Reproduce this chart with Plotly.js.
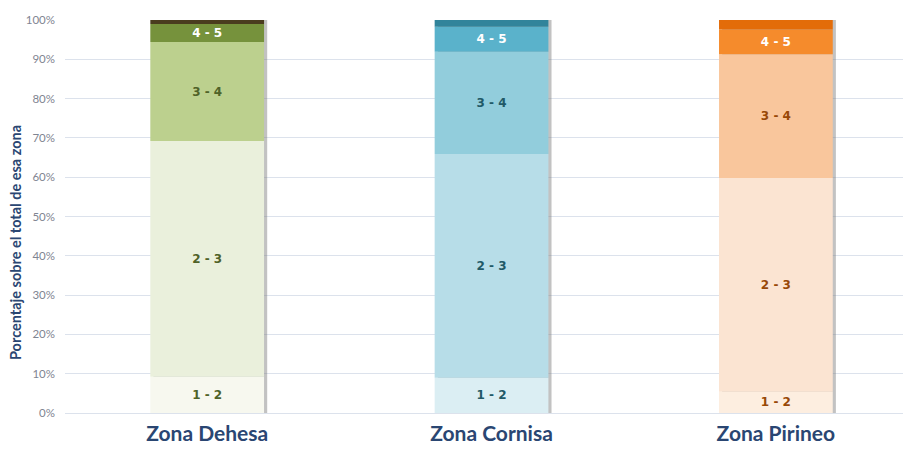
<!DOCTYPE html>
<html><head><meta charset="utf-8">
<script src="https://cdn.plot.ly/plotly-3.0.1.min.js"></script>
<style>html,body{margin:0;padding:0;background:#fff}#c{width:903px;height:449px}</style>
</head><body><div id="c"></div>
<script>
const zones = ['Zona Dehesa', 'Zona Cornisa', 'Zona Pirineo'];
const bandLabels = ['1 - 2', '2 - 3', '3 - 4', '4 - 5', ''];
const band12 = [9.2, 9.0, 5.4];
const band23 = [60.0, 56.9, 54.4];
const band34 = [25.2, 26.0, 31.5];
const band45 = [4.6, 6.4, 6.3];
const band5p = [1.0, 1.7, 2.4];
const yTicks = [0,10,20,30,40,50,60,70,80,90,100];
const yTitle = 'Porcentaje sobre el total de esa zona';

const bands = [band12, band23, band34, band45, band5p];
const fillColors = [
  ['#f7f8ef', '#dbeef3', '#fdeee0'],
  ['#eaf0dc', '#b7dde8', '#fbe4d2'],
  ['#bcd08e', '#92cddc', '#f9c69c'],
  ['#76923c', '#5ab2cb', '#f58b2c'],
  ['#4a3c1e', '#31849b', '#e36c09']
];
const textColors = [
  ['#4f6228', '#215967', '#984807'],
  ['#4f6228', '#215967', '#984807'],
  ['#4f6228', '#215967', '#984807'],
  ['#ffffff', '#ffffff', '#ffffff'],
  ['#ffffff', '#ffffff', '#ffffff']
];

const barW = 0.4;
const totals = zones.map((_, i) => bands.reduce((s, b) => s + b[i], 0));
const traces = [];
// shadow
traces.push({
  type: 'bar', x: zones, y: totals, base: zones.map(() => 0),
  width: barW, offset: -barW/2 + 0.011,
  marker: {color: 'rgba(120,120,120,0.45)', line: {width: 0}},
  hoverinfo: 'skip', showlegend: false
});
let cum = zones.map(() => 0);
bands.forEach((b, k) => {
  traces.push({
    type: 'bar', x: zones, y: b, base: cum.slice(),
    width: barW, offset: -barW/2,
    marker: {color: fillColors[k], line: {width: 0}},
    text: zones.map(() => bandLabels[k]),
    textposition: 'inside', insidetextanchor: 'middle', textangle: 0,
    constraintext: 'none',
    textfont: {family: 'DejaVu Sans, sans-serif', size: 12, color: textColors[k], weight: 'bold'},
    hoverinfo: 'skip', showlegend: false
  });
  cum = cum.map((v, i) => v + b[i]);
});

const layout = {
  width: 903, height: 449,
  margin: {l: 65, r: 0, t: 20, b: 36},
  barmode: 'overlay',
  paper_bgcolor: '#ffffff', plot_bgcolor: '#ffffff',
  font: {family: 'Lato, DejaVu Sans, sans-serif'},
  xaxis: {
    range: [-0.5, 2.447], showgrid: false, zeroline: false, showline: false,
    ticks: '', tickfont: {size: 21, color: '#2a4672', weight: 'bold'}, ticklabelstandoff: 6
  },
  yaxis: {
    range: [0, 100], tickvals: yTicks, ticktext: yTicks.map(v => v + '%'),
    showgrid: true, gridcolor: '#dce2ec', gridwidth: 1, zeroline: true, zerolinecolor: '#dce2ec',
    showline: false, ticks: '', tickfont: {size: 11.5, color: '#7f8592'}, ticklabelstandoff: 9
  },
  annotations: [{
    text: yTitle, xref: 'paper', yref: 'paper', x: -0.0597, y: 0.435,
    xanchor: 'center', yanchor: 'middle', textangle: -90, showarrow: false,
    font: {size: 14.5, color: '#2a4672', weight: 'bold'}
  }]
};
Plotly.newPlot('c', traces, layout, {staticPlot: true});
</script></body></html>
